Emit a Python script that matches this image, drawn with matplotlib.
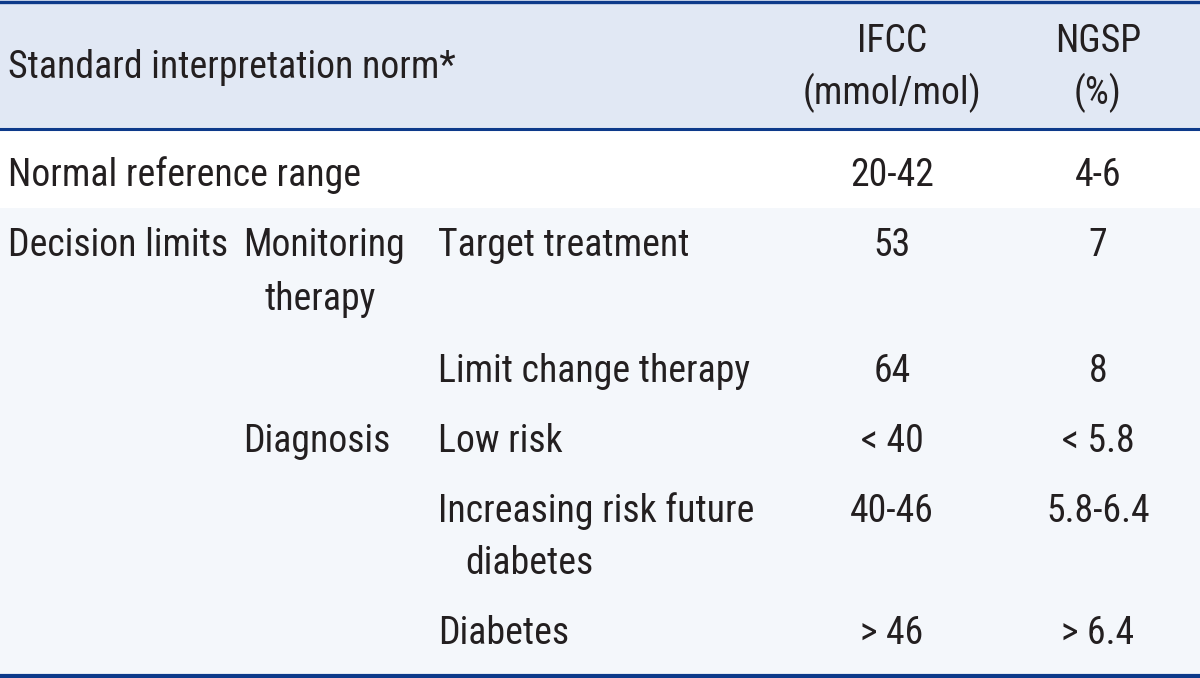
import matplotlib
matplotlib.use("Agg")
import matplotlib.pyplot as plt
from matplotlib.patches import Rectangle
from matplotlib import font_manager as fm

# ---- table content ----
header_norm = "Standard interpretation norm*"
header_ifcc = ["IFCC", "(mmol/mol)"]
header_ngsp = ["NGSP", "(%)"]

level1 = ["Normal reference range", "Decision limits", "", "", "", ""]
level2 = ["", "Monitoring", "", "Diagnosis", "", ""]
level2_cont = ["", "therapy", "", "", "", ""]
level3 = ["", "Target treatment", "Limit change therapy", "Low risk",
          "Increasing risk future", "Diabetes"]
level3_cont = ["", "", "", "", "diabetes", ""]
ifcc_vals = ["20-42", "53", "64", "< 40", "40-46", "> 46"]
ngsp_vals = ["4-6", "7", "8", "< 5.8", "5.8-6.4", "> 6.4"]

# ---- layout (pixel space) ----
W, H = 1200, 678
row_y = [175, 246, 371, 441, 511, 634]
cont_dy = 53
x1, x2, x3, x2c, x3c = 8, 243, 438, 320, 465
xi, xn = 892, 1098

dark = "#0d3a8a"
hdr_bg = "#e1e8f4"
body_bg = "#f4f7fb"
txt = "#231f20"

# pick the narrowest available sans family
entries = fm.fontManager.ttflist
names = {f.name for f in entries}
stretch = "normal"
family = None
for cand in ["Liberation Sans Narrow", "Roboto Condensed", "Open Sans Condensed",
             "DejaVu Sans Condensed", "Noto Sans Display"]:
    if cand in names:
        family = cand
        break
if family is None:
    cond = [f for f in entries if f.name in ("Roboto", "Noto Sans", "DejaVu Sans", "Open Sans")
            and str(f.stretch) in ("condensed", "semi-condensed", "extra-condensed")]
    if cond:
        family = cond[0].name
        stretch = cond[0].stretch
if family is None:
    family = "Roboto" if "Roboto" in names else "Liberation Sans"
fam = [family, "DejaVu Sans"]

fig = plt.figure(figsize=(W / 100, H / 100), dpi=100)
ax = fig.add_axes([0, 0, 1, 1])
ax.set_xlim(0, W)
ax.set_ylim(H, 0)
ax.axis("off")

# size so that the first-column label spans about like the reference
renderer = fig.canvas.get_renderer()
probe = ax.text(0, 0, "Normal reference range", fontsize=26, family=fam,
                fontstretch=stretch)
wpx = probe.get_window_extent(renderer).width
probe.remove()
fs = min(28.0, 26 * 352.0 / wpx)

ax.add_patch(Rectangle((0, 0), W, 130, color=hdr_bg, lw=0))
ax.add_patch(Rectangle((0, 130), W, 78, color="white", lw=0))
ax.add_patch(Rectangle((0, 208), W, H - 208, color=body_bg, lw=0))
ax.axhline(1.5, color=dark, lw=2.4)
ax.axhline(129, color=dark, lw=2.2)
ax.axhline(676, color=dark, lw=3.0)

kw = dict(fontsize=fs, color=txt, family=fam, fontstretch=stretch, va="center")
ax.text(x1, 67, header_norm, ha="left", **kw)
ax.text(xi, 41, header_ifcc[0], ha="center", **kw)
ax.text(xi, 93, header_ifcc[1], ha="center", **kw)
ax.text(xn, 41, header_ngsp[0], ha="center", **kw)
ax.text(xn, 93, header_ngsp[1], ha="center", **kw)

for i, y in enumerate(row_y):
    if level1[i]:
        ax.text(x1, y, level1[i], ha="left", **kw)
    if level2[i]:
        ax.text(x2, y, level2[i], ha="left", **kw)
    if level2_cont[i]:
        ax.text(x2c, y + cont_dy, level2_cont[i], ha="center", **kw)
    if level3[i]:
        ax.text(x3, y, level3[i], ha="left", **kw)
    if level3_cont[i]:
        ax.text(x3c, y + cont_dy, level3_cont[i], ha="left", **kw)
    ax.text(xi, y, ifcc_vals[i], ha="center", **kw)
    ax.text(xn, y, ngsp_vals[i], ha="center", **kw)

fig.savefig("out.png", dpi=100)
